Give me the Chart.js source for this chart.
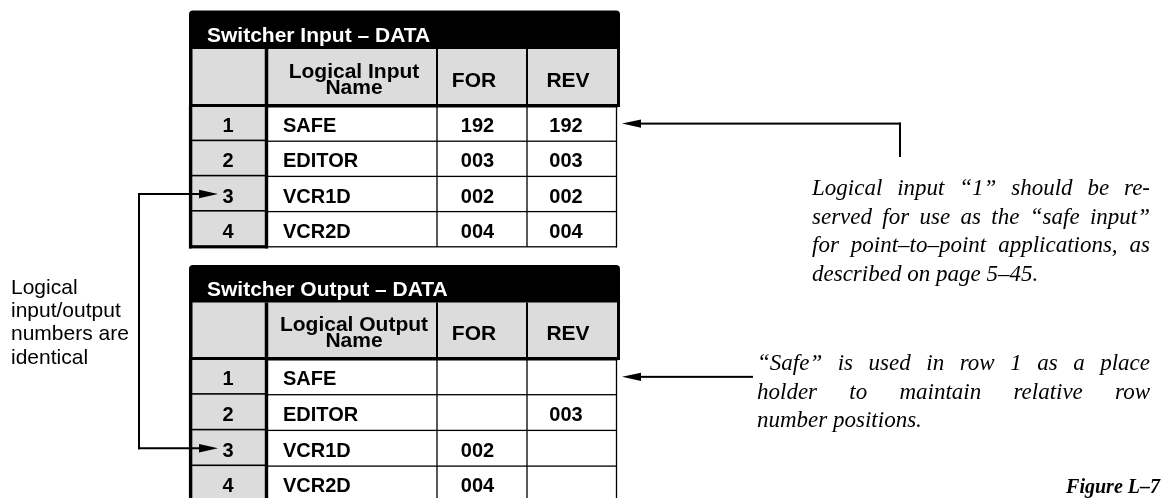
<!DOCTYPE html>
<html><head><meta charset="utf-8">
<script src="https://cdn.jsdelivr.net/npm/chart.js@4.4.0/dist/chart.umd.min.js"></script>
<style>html,body{margin:0;padding:0;background:#fff;overflow:hidden}#wrap{width:1163px;height:498px;position:relative}canvas{display:block}</style>
</head><body><div id="wrap"><canvas id="c" width="1163" height="498"></canvas></div>
<script>
// ---- data ----
const rowNumbers   = ['1','2','3','4'];
const inputNames   = ['SAFE','EDITOR','VCR1D','VCR2D'];
const inputFor     = ['192','003','002','004'];
const inputRev     = ['192','003','002','004'];
const outputNames  = ['SAFE','EDITOR','VCR1D','VCR2D'];
const outputFor    = ['','','002','004'];
const outputRev    = ['','003','',''];
const tableTitles  = ['Switcher Input – DATA','Switcher Output – DATA'];
const nameHeaders  = [['Logical Input','Name'],['Logical Output','Name']];
const valueHeaders = ['FOR','REV'];
const linkedRow    = 3;
const noteLeft     = ['Logical','input/output','numbers are','identical'];
const noteInput    = ['Logical input “1” should be re-','served for use as the “safe input”','for point–to–point applications, as','described on page 5–45.'];
const noteOutput   = ['“Safe” is used in row 1 as a place','holder to maintain relative row','number positions.'];
const figureLabel  = 'Figure L–7';

// ---- layout (figure units mapped through the chart scales) ----
const L = {
  x0:189, xNum:266, xName:437, xFor:527, xRev:617, xOut:620,
  numCx:228, nameX:283, forCx:477.5, revCx:566, nameHCx:354, forHCx:474, revHCx:568,
  tables:[{top:10.5, titleH:38.5, headH:57, rowH:35.2},{top:265, titleH:37.5, headH:56.5, rowH:35.7}],
  linkX:139, linkTip:218,
  noteIn:{x:812, w:338, y0:195, dy:28.7, arrowTip:622, elbowX:900, elbowY:157},
  noteOut:{x:757, w:393, y0:370, dy:28.5, arrowTip:622, lineEnd:753},
  left:{x:11, y0:294, dy:23.2},
  fig:{x:1160, y:493}
};
const GRAY = '#dcdcdc';
const SANS = '"Liberation Sans", Arial, Helvetica, sans-serif';
const SERIF = '"Liberation Serif", "Times New Roman", Times, serif';

const figurePlugin = {
  id:'figure',
  afterDraw(chart){
    const ctx = chart.ctx, xs = chart.scales.x, ys = chart.scales.y;
    const X = v => xs.getPixelForValue(v), Y = v => ys.getPixelForValue(v);
    ctx.save();

    function rrect(x,y,w,h,r){
      ctx.beginPath();
      ctx.moveTo(x+r,y); ctx.lineTo(x+w-r,y); ctx.quadraticCurveTo(x+w,y,x+w,y+r);
      ctx.lineTo(x+w,y+h-r); ctx.quadraticCurveTo(x+w,y+h,x+w-r,y+h);
      ctx.lineTo(x+r,y+h); ctx.quadraticCurveTo(x,y+h,x,y+h-r);
      ctx.lineTo(x,y+r); ctx.quadraticCurveTo(x,y,x+r,y); ctx.closePath();
    }
    function hline(x1,x2,y,w){ctx.fillRect(x1,y-w/2,x2-x1,w);}
    function vline(x,y1,y2,w){ctx.fillRect(x-w/2,y1,w,y2-y1);}
    function arrowH(xFrom,xTip,y){
      const dir = Math.sign(xTip-xFrom), len=19, hw=4.2;
      ctx.fillStyle='#000';
      ctx.fillRect(Math.min(xFrom,xTip-dir*len), y-1, Math.abs(xTip-dir*len-xFrom), 2);
      ctx.beginPath(); ctx.moveTo(xTip,y); ctx.lineTo(xTip-dir*len,y-hw); ctx.lineTo(xTip-dir*len,y+hw); ctx.closePath(); ctx.fill();
    }

    const rowCenters = [];
    function drawTable(ti, names, fors, revs){
      const T = L.tables[ti];
      const top=Y(T.top), tb=Y(T.top+T.titleH), hb=Y(T.top+T.titleH+T.headH);
      const x0=X(L.x0), xN=X(L.xNum), xNm=X(L.xName), xF=X(L.xFor), xR=X(L.xRev), xO=X(L.xOut);
      const rowTop = i => Y(T.top+T.titleH+T.headH + i*T.rowH);
      const nRows = rowNumbers.length;
      const last = rowTop(nRows);
      ctx.fillStyle='#000'; rrect(x0, top, xO-x0, hb-top+1.5, 4); ctx.fill();
      ctx.fillStyle=GRAY; ctx.fillRect(x0+3.5, tb, xO-x0-6.5, hb-tb-2);
      ctx.fillStyle='#000';
      vline(xN+0.5, tb, hb, 3.5); vline(xNm, tb, hb, 2); vline(xF, tb, hb, 2);
      ctx.fillStyle='#fff'; ctx.font='bold 21px '+SANS; ctx.textAlign='left'; ctx.textBaseline='alphabetic';
      ctx.fillText(tableTitles[ti], X(207), tb-7);
      ctx.fillStyle='#000'; ctx.font='bold 21px '+SANS; ctx.textAlign='center';
      ctx.fillText(nameHeaders[ti][0], X(L.nameHCx), tb+28.5);
      ctx.fillText(nameHeaders[ti][1], X(L.nameHCx), tb+44.5);
      ctx.fillText(valueHeaders[0], X(L.forHCx), tb+37.5);
      ctx.fillText(valueHeaders[1], X(L.revHCx), tb+37.5);
      const centers=[];
      for(let i=0;i<nRows;i++){
        const rt=rowTop(i), rb=rowTop(i+1), cy=(rt+rb)/2;
        centers.push(cy);
        ctx.fillStyle=GRAY; ctx.fillRect(x0, rt, xN-x0, rb-rt);
        ctx.fillStyle='#000'; ctx.font='bold 20px '+SANS; ctx.textBaseline='alphabetic';
        ctx.textAlign='center'; ctx.fillText(rowNumbers[i], X(L.numCx), cy+8.5);
        ctx.textAlign='left'; ctx.fillText(names[i], X(L.nameX), cy+8.5);
        ctx.textAlign='center';
        if(fors[i]) ctx.fillText(fors[i], X(L.forCx), cy+8.5);
        if(revs[i]) ctx.fillText(revs[i], X(L.revCx), cy+8.5);
        hline(xN, xR, rb, 1.3);
        hline(x0, xN+2, rb, 3.2);
      }
      vline(xNm, hb, last, 1.3); vline(xF, hb, last, 1.3); vline(xR-0.5, hb, last+0.6, 1.3);
      vline(x0+1.6, hb, last+1.6, 3.4); vline(xN+0.5, hb, last+1.6, 3.4);
      hline(x0, xO, hb-0.5, 3);
      rowCenters.push(centers);
    }
    drawTable(0, inputNames, inputFor, inputRev);
    drawTable(1, outputNames, outputFor, outputRev);

    const ya = rowCenters[0][linkedRow-1], yb = rowCenters[1][linkedRow-1];
    ctx.fillStyle='#000';
    vline(X(L.linkX), ya-1, yb+1, 2);
    arrowH(X(L.linkX)-1, X(L.linkTip), ya);
    arrowH(X(L.linkX)-1, X(L.linkTip), yb);

    const yIn = rowCenters[0][0], yOut = rowCenters[1][0];
    arrowH(X(L.noteIn.elbowX)+1, X(L.noteIn.arrowTip), yIn);
    vline(X(L.noteIn.elbowX), yIn-1, Y(L.noteIn.elbowY), 2);
    arrowH(X(L.noteOut.lineEnd), X(L.noteOut.arrowTip), yOut);

    function justified(text, x, y, width, justify){
      if(!justify){ ctx.textAlign='left'; ctx.fillText(text, x, y); return; }
      const words=text.split(' ');
      const ww=words.map(w=>ctx.measureText(w).width);
      const tot=ww.reduce((a,b)=>a+b,0);
      let gap=(width-tot)/(words.length-1), sx=1;
      const minGap=ctx.measureText(' ').width*0.7;
      if(gap<minGap){ gap=minGap; sx=width/(tot+gap*(words.length-1)); }
      ctx.save(); ctx.translate(x,y); ctx.scale(sx,1); ctx.textAlign='left';
      let cx=0; words.forEach((w,i)=>{ctx.fillText(w,cx,0); cx+=ww[i]+gap;});
      ctx.restore();
    }
    ctx.fillStyle='#000'; ctx.textBaseline='alphabetic';
    ctx.font='italic 23px '+SERIF;
    noteInput.forEach((t,i)=>justified(t, X(L.noteIn.x), Y(L.noteIn.y0+i*L.noteIn.dy), L.noteIn.w, i<noteInput.length-1));
    noteOutput.forEach((t,i)=>justified(t, X(L.noteOut.x), Y(L.noteOut.y0+i*L.noteOut.dy), L.noteOut.w, i<noteOutput.length-1));
    ctx.font='21px '+SANS; ctx.textAlign='left';
    noteLeft.forEach((t,i)=>ctx.fillText(t, X(L.left.x), Y(L.left.y0+i*L.left.dy)));
    ctx.font='bold italic 20px '+SERIF; ctx.textAlign='right';
    ctx.fillText(figureLabel, X(L.fig.x), Y(L.fig.y));
    ctx.restore();
  }
};

new Chart(document.getElementById('c'), {
  type:'scatter',
  data:{datasets:[]},
  options:{
    responsive:false, animation:false, devicePixelRatio:1,
    layout:{padding:0},
    plugins:{legend:{display:false}, tooltip:{enabled:false}, title:{display:false}},
    scales:{
      x:{type:'linear', min:0, max:1163, display:false},
      y:{type:'linear', min:0, max:498, reverse:true, display:false}
    }
  },
  plugins:[figurePlugin]
});
</script>
</body></html>
